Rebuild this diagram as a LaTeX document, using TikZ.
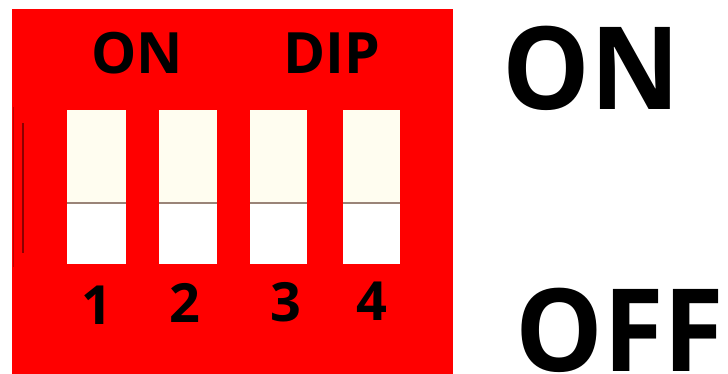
\documentclass[tikz,border=0pt]{standalone}
\usepackage{fontspec}
\setmainfont{Open Sans}
\usetikzlibrary{positioning}
\definecolor{dipred}{HTML}{FF0000}
\definecolor{knobcream}{HTML}{FFFDF0}
\definecolor{knobline}{HTML}{9A8478}

\begin{document}
\begin{tikzpicture}[x=1pt, y=-1pt,
    label/.style={inner sep=0pt, anchor=base, font=\bfseries},
    big/.style={label, font=\bfseries\fontsize{115}{115}\selectfont},
    knobtop/.style={fill=knobcream},
    knobbot/.style={fill=white},
    knobmid/.style={draw=knobline, line width=1.5pt}]
  \useasboundingbox (0, 0) rectangle (728, 374);

  % body of the switch
  \fill[dipred]  ( 12,   9) rectangle (453, 374);
  \draw[red!55!black, line width=1.2pt]
                 ( 23, 123)
              -- ( 23, 253);
  \draw[red!75!black, line width=0.6pt]
                 ( 13, 107)
              -- ( 13, 267);

  \node[label, font=\bfseries\fontsize{57}{57}\selectfont] (on)  at (137, 74) {ON};
  \node[label, font=\bfseries\fontsize{57}{57}\selectfont] (dip) at (332, 74) {DIP};

  % the four knobs
  \fill[knobtop] ( 67, 110) rectangle (126, 203);
  \fill[knobbot] ( 67, 203) rectangle (126, 264);
  \draw[knobmid] ( 67, 203) -- (126, 203);

  \fill[knobtop] (159, 110) rectangle (217, 203);
  \fill[knobbot] (159, 203) rectangle (217, 264);
  \draw[knobmid] (159, 203) -- (217, 203);

  \fill[knobtop] (250, 110) rectangle (307, 203);
  \fill[knobbot] (250, 203) rectangle (307, 264);
  \draw[knobmid] (250, 203) -- (307, 203);

  \fill[knobtop] (343, 110) rectangle (400, 203);
  \fill[knobbot] (343, 203) rectangle (400, 264);
  \draw[knobmid] (343, 203) -- (400, 203);

  \node[label, font=\bfseries\fontsize{54}{54}\selectfont] (n1) at ( 97, 324) {1};
  \node[label, font=\bfseries\fontsize{54}{54}\selectfont] (n2) at (185, 322) {2};
  \node[label, font=\bfseries\fontsize{54}{54}\selectfont] (n3) at (286, 321) {3};
  \node[label, font=\bfseries\fontsize{54}{54}\selectfont] (n4) at (372, 320) {4};

  % positions
  \node[big] (pon)  at (591, 110) {\scalebox{0.96}[1]{ON}};
  \node[big] (poff) at (620, 371) {\scalebox{0.96}[1]{OFF}};

\end{tikzpicture}
\end{document}
